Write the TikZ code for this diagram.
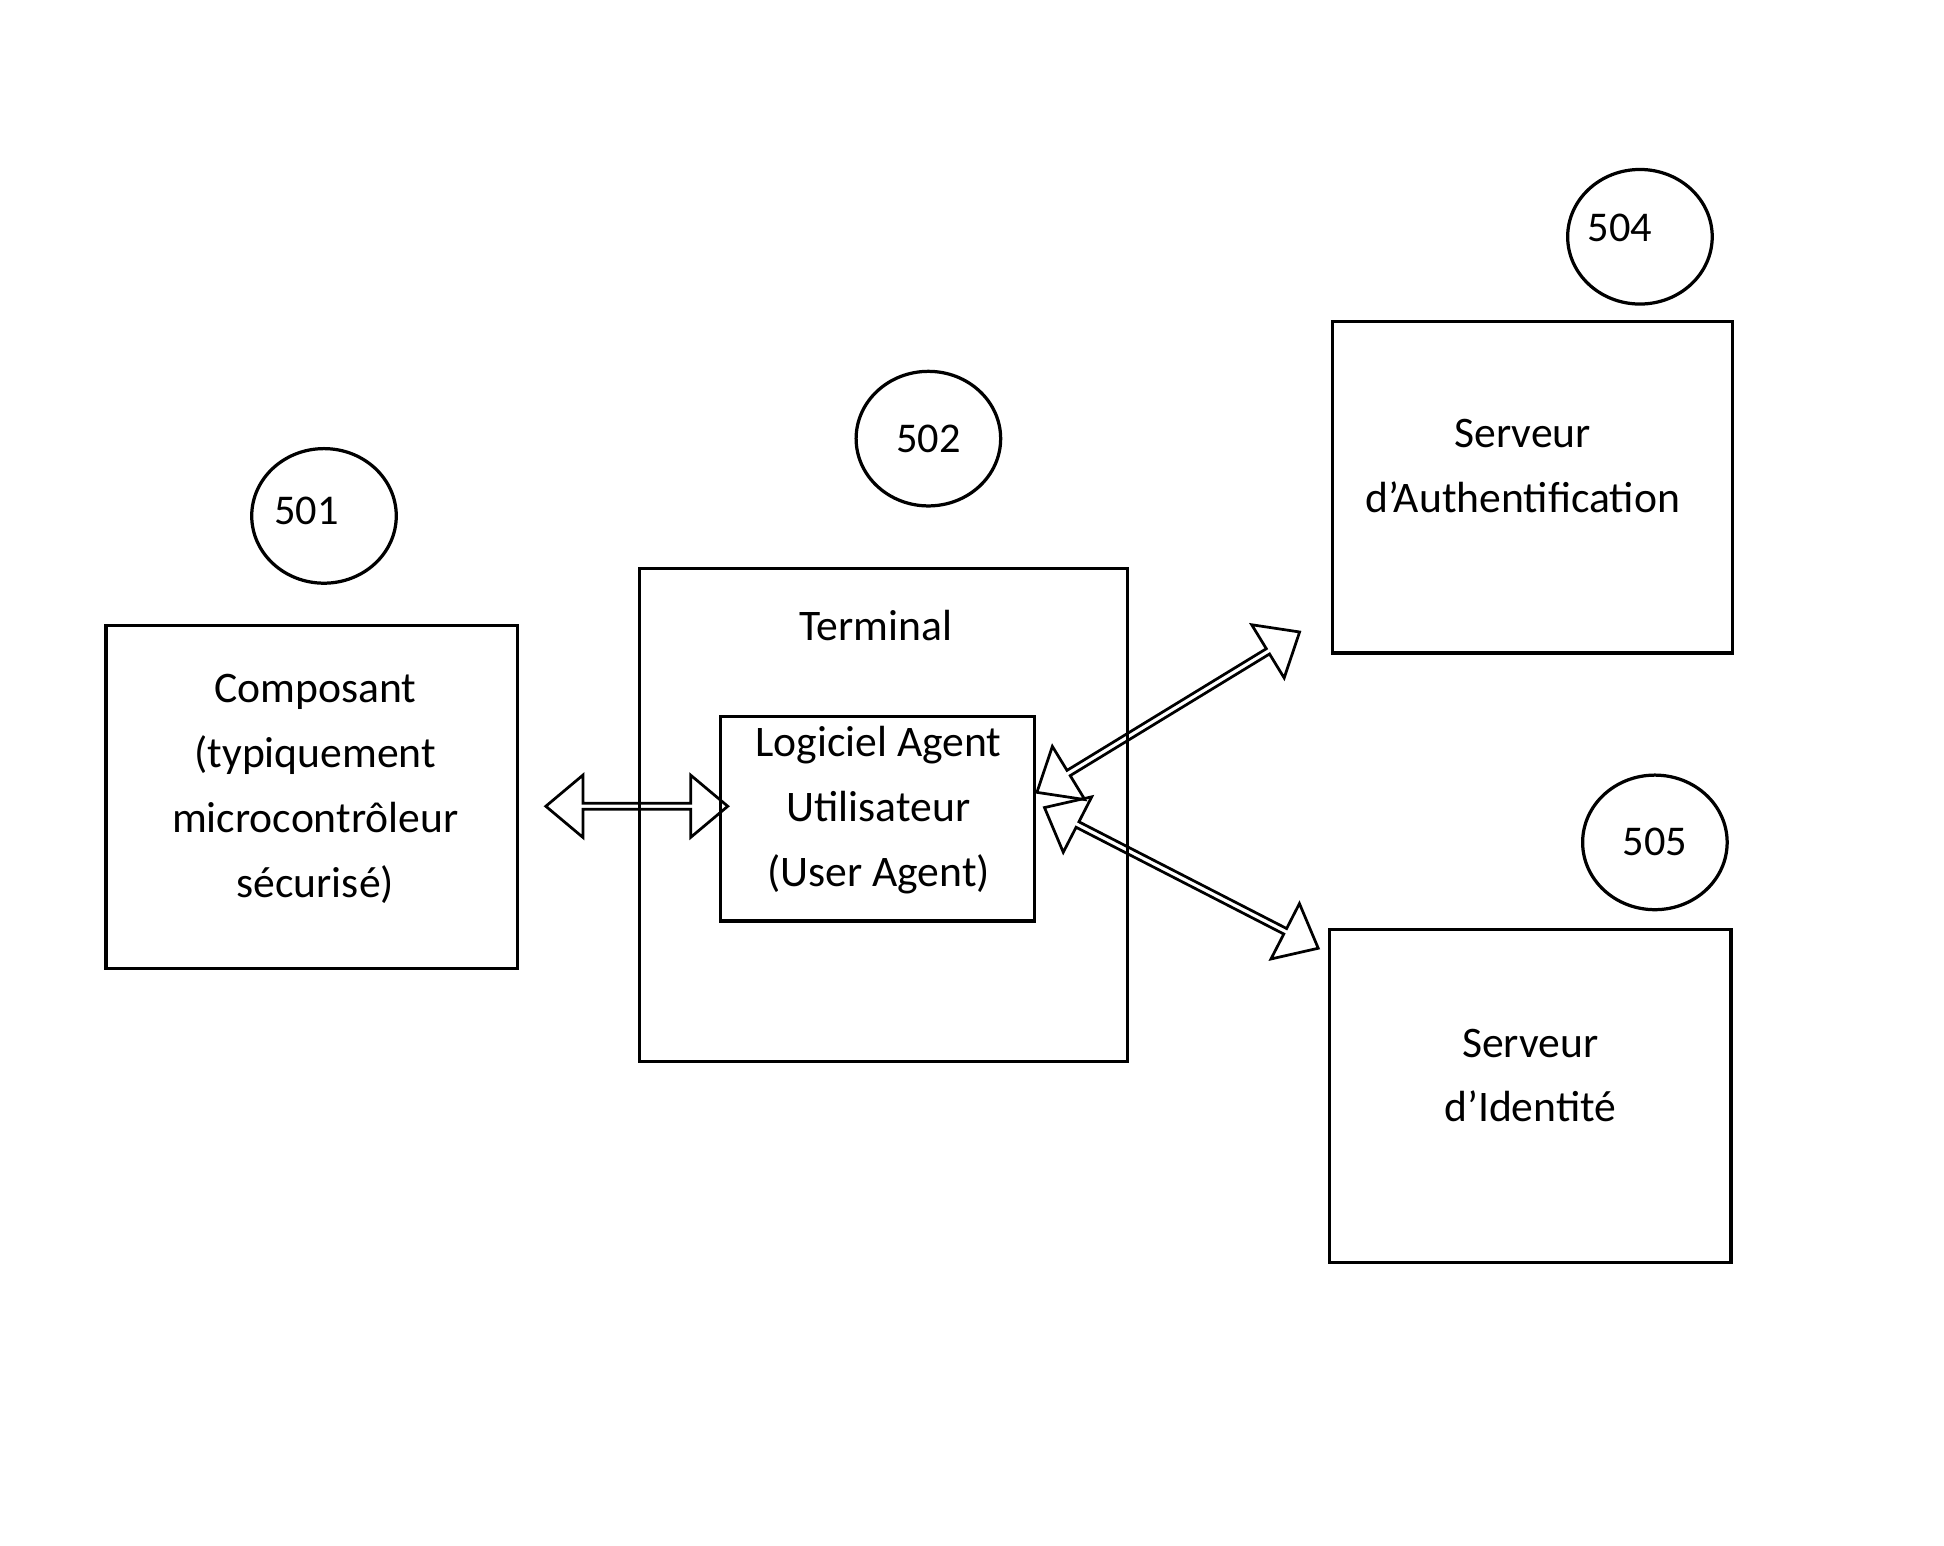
\documentclass[tikz,border=0pt]{standalone}
\usepackage{fontspec}
\setmainfont{Carlito}
\usetikzlibrary{shapes.geometric,shapes.arrows}
\begin{document}
\begin{tikzpicture}[x=0.5pt,y=-0.5pt,
  box/.style={draw,line width=1.3pt,inner sep=0},
  num/.style={draw,ellipse,line width=1.3pt,minimum width=58pt,minimum height=54pt,inner sep=0,font=\fontsize{17}{20}\selectfont},
  txt/.style={align=center,font=\fontsize{17.5}{26}\selectfont},
  darr/.style={draw,double arrow,line width=1.1pt,minimum width=25pt,double arrow head extend=5pt,double arrow tip angle=80,inner sep=0}]
\useasboundingbox (0,0) rectangle (1560,1240);
\draw[box] (85,502) rectangle (415,777);
\node[txt] (comp) at (253,633) {Composant\\(typiquement\\microcontrôleur\\sécurisé)};
\node[num] (c501) at (260,414) {};
\node[font=\fontsize{17}{20}\selectfont] at (246,410) {501};
\draw[box] (513,456) rectangle (905,852);
\node[txt] (term) at (703,502) {Terminal};
\draw[box] (578,575) rectangle (830,739);
\node[txt] (ua) at (705,650) {Logiciel Agent\\Utilisateur\\(User Agent)};
\node[num] (c502) at (745,352) {502};
\draw[box] (1069,258) rectangle (1390,524);
\node[txt] (auth) at (1222,374) {Serveur\\d’Authentification};
\node[num] (c504) at (1316,190) {};
\node[font=\fontsize{17}{20}\selectfont] at (1300,183) {504};
\draw[box] (1067,746) rectangle (1389,1013);
\node[txt] (ident) at (1228,863) {Serveur\\d’Identité};
\node[num] (c505) at (1328,676) {505};
\node[darr,minimum height=73pt] (a1) at (511,647) {};
\node[darr,minimum height=123.5pt,rotate=31.4] (a2) at (937.5,571.5) {};
\node[darr,minimum height=123.5pt,rotate=-27.2] (a3) at (948,704.5) {};
\end{tikzpicture}
\end{document}
